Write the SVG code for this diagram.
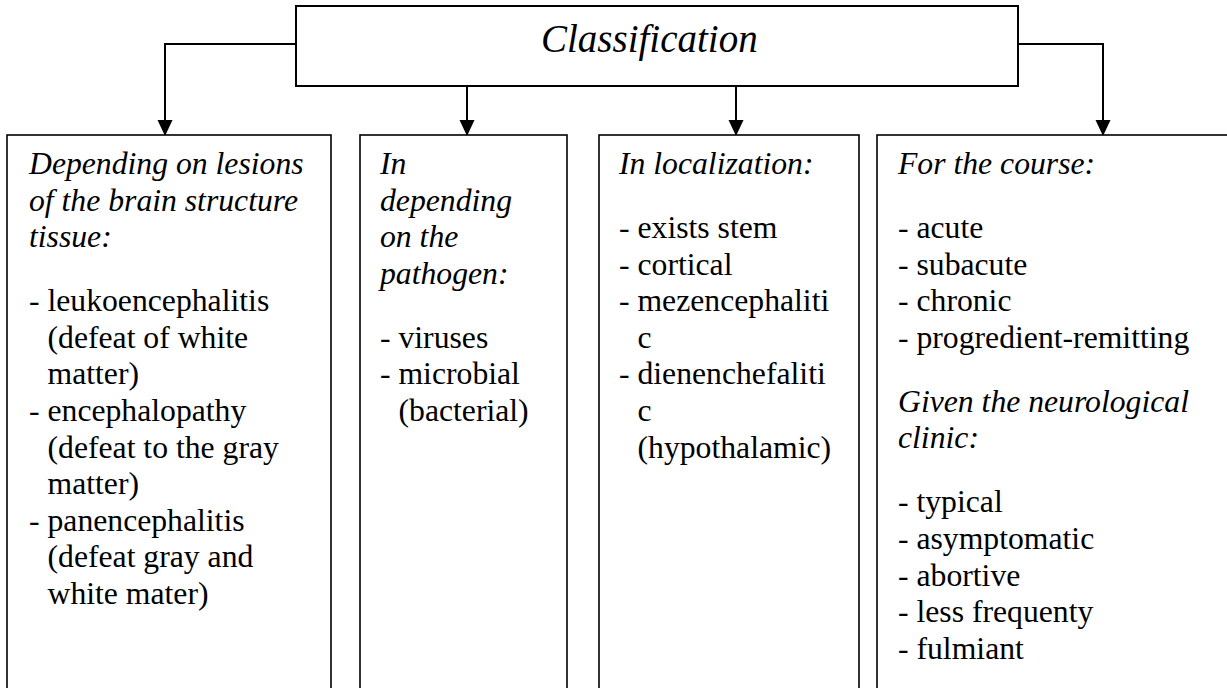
<svg xmlns="http://www.w3.org/2000/svg" width="1227" height="688" viewBox="0 0 1227 688" font-family="'Liberation Serif', 'Times New Roman', Times, 'DejaVu Serif', serif">
  <style>
    .box { fill: #ffffff; stroke: #000000; stroke-width: 1.6; }
    .title-box { fill: #ffffff; stroke: #000000; stroke-width: 2; }
    .link { fill: none; stroke: #000000; stroke-width: 2; }
    .txt { font-family: 'Liberation Serif', 'Times New Roman', Times, 'DejaVu Serif', serif; font-size: 31.7px; fill: #000000; }
    .head { font-style: italic; }
    .title { font-style: italic; font-size: 39px; }
  </style>
  <defs>
    <marker id="arrow" markerUnits="userSpaceOnUse" markerWidth="16" markerHeight="17" refX="15" refY="7.5" orient="auto">
      <path d="M0,0 L16,7.5 L0,15 Z" fill="#000000"/>
    </marker>
  </defs>

  <rect width="1227" height="688" fill="#ffffff"/>

  <!-- connectors from the title box to the four category boxes -->
  <g id="connectors">
    <path class="link" d="M296,44 H165 V135" marker-end="url(#arrow)"/>
    <path class="link" d="M467,86 V135" marker-end="url(#arrow)"/>
    <path class="link" d="M736,86 V135" marker-end="url(#arrow)"/>
    <path class="link" d="M1018,44 H1103 V135" marker-end="url(#arrow)"/>
  </g>

  <g id="classification">
    <rect class="title-box" x="296" y="6" width="722" height="80"/>
    <text class="txt title" x="541" y="52">Classification</text>
  </g>

  <g id="brain-structure" class="txt">
    <rect class="box" x="7" y="135" width="324" height="570"/>
    <text class="head" x="29" y="174">Depending on lesions</text>
    <text class="head" x="29" y="210.6">of the brain structure</text>
    <text class="head" x="29" y="247.2">tissue:</text>
    <text x="29" y="311.2">- leukoencephalitis</text>
    <text x="47.5" y="347.8">(defeat of white</text>
    <text x="47.5" y="384.4">matter)</text>
    <text x="29" y="421">- encephalopathy</text>
    <text x="47.5" y="457.6">(defeat to the gray</text>
    <text x="47.5" y="494.2">matter)</text>
    <text x="29" y="530.8">- panencephalitis</text>
    <text x="47.5" y="567.4">(defeat gray and</text>
    <text x="47.5" y="604">white mater)</text>
  </g>

  <g id="pathogen" class="txt">
    <rect class="box" x="360" y="135" width="207" height="570"/>
    <text class="head" x="380" y="174">In</text>
    <text class="head" x="380" y="210.6">depending</text>
    <text class="head" x="380" y="247.2">on the</text>
    <text class="head" x="380" y="283.8">pathogen:</text>
    <text x="380" y="347.8">- viruses</text>
    <text x="380" y="384.4">- microbial</text>
    <text x="398.5" y="421">(bacterial)</text>
  </g>

  <g id="localization" class="txt">
    <rect class="box" x="599" y="135" width="260" height="570"/>
    <text class="head" x="619" y="174">In localization:</text>
    <text x="619" y="238">- exists stem</text>
    <text x="619" y="274.6">- cortical</text>
    <text x="619" y="311.2">- mezencephaliti</text>
    <text x="637.5" y="347.8">c</text>
    <text x="619" y="384.4">- dienenchefaliti</text>
    <text x="637.5" y="421">c</text>
    <text x="637.5" y="457.6">(hypothalamic)</text>
  </g>

  <g id="course" class="txt">
    <rect class="box" x="877" y="135" width="351" height="570"/>
    <text class="head" x="898" y="174">For the course:</text>
    <text x="898" y="238">- acute</text>
    <text x="898" y="274.6">- subacute</text>
    <text x="898" y="311.2">- chronic</text>
    <text x="898" y="347.8">- progredient-remitting</text>
    <text class="head" x="898" y="411.8">Given the neurological</text>
    <text class="head" x="898" y="448.4">clinic:</text>
    <text x="898" y="512.4">- typical</text>
    <text x="898" y="549">- asymptomatic</text>
    <text x="898" y="585.6">- abortive</text>
    <text x="898" y="622.2">- less frequenty</text>
    <text x="898" y="658.8">- fulmiant</text>
  </g>
</svg>
